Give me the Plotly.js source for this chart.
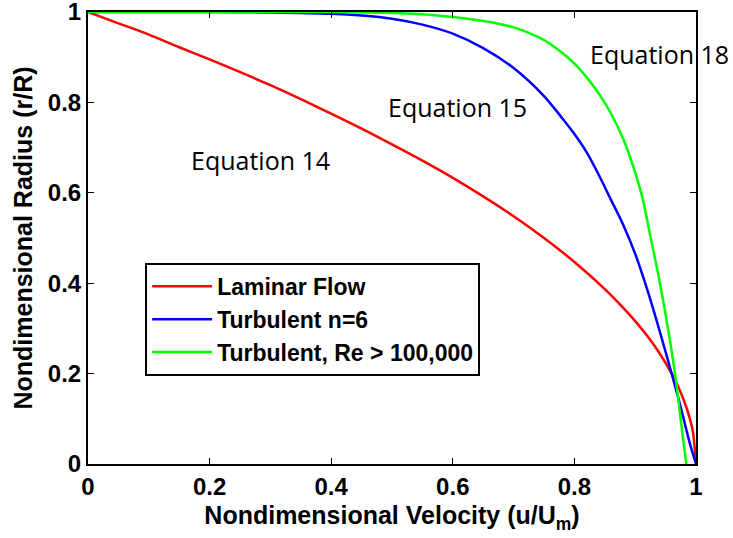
<!DOCTYPE html>
<html>
<head>
<meta charset="utf-8">
<script src="https://cdn.plot.ly/plotly-3.0.1.min.js"></script>
<style>
  html, body { margin: 0; padding: 0; background: #fff; }
  #chart { width: 733px; height: 538px; }
</style>
</head>
<body>
<div id="chart"></div>
<script>
// Velocity profiles in a pipe: nondimensional velocity u/Um vs radius r/R

// Laminar flow (Equation 14)
var velLaminar = [0, 0.05, 0.1, 0.15, 0.2, 0.22, 0.3, 0.38, 0.45, 0.5, 0.55, 0.6, 0.65, 0.7, 0.75, 0.8, 0.85, 0.88, 0.9, 0.92, 0.94, 0.96, 0.97, 0.98, 0.99, 0.995, 1.0];
var radLaminar = [1, 0.975, 0.95, 0.922, 0.895, 0.884, 0.838, 0.788, 0.742, 0.707, 0.671, 0.633, 0.592, 0.548, 0.5, 0.447, 0.387, 0.346, 0.316, 0.283, 0.245, 0.2, 0.173, 0.141, 0.1, 0.071, 0];

// Turbulent, power law n = 6 (Equation 15)
var velN6 = [0, 0.1, 0.2, 0.3, 0.4, 0.45, 0.5, 0.55, 0.6, 0.65, 0.7, 0.75, 0.78, 0.8, 0.82, 0.84, 0.86, 0.88, 0.9, 0.92, 0.94, 0.96, 0.975, 0.99, 1.0];
var radN6 = [1, 1, 1, 0.999, 0.996, 0.992, 0.985, 0.972, 0.952, 0.92, 0.876, 0.814, 0.765, 0.73, 0.69, 0.64, 0.585, 0.53, 0.465, 0.385, 0.295, 0.2, 0.125, 0.045, 0];

// Turbulent, Re > 100,000 (Equation 18)
var velRe = [0, 0.2, 0.4, 0.5, 0.55, 0.6, 0.65, 0.675, 0.7, 0.725, 0.75, 0.775, 0.8, 0.82, 0.84, 0.86, 0.88, 0.9, 0.913, 0.924, 0.94, 0.957, 0.968, 0.976, 0.984];
var radRe = [1, 1, 1, 0.998, 0.995, 0.989, 0.98, 0.974, 0.966, 0.954, 0.938, 0.915, 0.886, 0.856, 0.82, 0.776, 0.72, 0.645, 0.583, 0.51, 0.405, 0.275, 0.175, 0.085, 0];

var seriesNames = ['Laminar Flow', 'Turbulent n=6', 'Turbulent, Re > 100,000'];
var seriesColors = ['#ff0000', '#0000ff', '#00ff00'];

var tickVals = [0, 0.2, 0.4, 0.6, 0.8, 1];
var tickText = ['0', '0.2', '0.4', '0.6', '0.8', '1'];

var noteText = ['Equation 14', 'Equation 15', 'Equation 18'];
var noteX = [0.284, 0.607, 0.94];
var noteY = [0.672, 0.79, 0.907];

var boldFont = 'Liberation Sans, Arial, Helvetica, sans-serif';

var traces = [
  { x: velLaminar, y: radLaminar },
  { x: velN6, y: radN6 },
  { x: velRe, y: radRe }
].map(function (t, i) {
  return {
    type: 'scatter',
    mode: 'lines',
    x: t.x,
    y: t.y,
    name: seriesNames[i],
    line: { color: seriesColors[i], width: 2.5, shape: 'spline', smoothing: 0.8 }
  };
});

function axis(titleText, standoff) {
  return {
    range: [0, 1],
    tickmode: 'array',
    tickvals: tickVals,
    ticktext: tickText,
    ticks: 'inside',
    ticklen: 6,
    tickwidth: 1,
    tickcolor: '#000',
    showline: true,
    linecolor: '#000',
    linewidth: 2,
    mirror: 'ticks',
    showgrid: false,
    zeroline: false,
    ticklabeloverflow: 'allow',
    tickfont: { family: boldFont, size: 24, color: '#000', weight: 'bold' },
    title: {
      text: titleText,
      font: { family: boldFont, size: 25, color: '#000', weight: 'bold' },
      standoff: standoff
    },
    automargin: false
  };
}

var annotations = noteText.map(function (txt, i) {
  return {
    text: txt,
    x: noteX[i],
    y: noteY[i],
    xref: 'x',
    yref: 'y',
    showarrow: false,
    xanchor: 'center',
    yanchor: 'middle',
    font: { family: 'Open Sans, sans-serif', size: 25, color: '#000' }
  };
});

var layout = {
  width: 733,
  height: 538,
  margin: { l: 88, r: 37, t: 12, b: 74 },
  paper_bgcolor: '#fff',
  plot_bgcolor: '#fff',
  xaxis: axis('Nondimensional Velocity (u/U<sub>m</sub>)', 8),
  yaxis: axis('Nondimensional Radius (r/R)', 8),
  showlegend: true,
  legend: {
    x: 0.094,
    y: 0.445,
    xanchor: 'left',
    yanchor: 'top',
    bgcolor: '#fff',
    bordercolor: '#000',
    borderwidth: 2,
    itemwidth: 60,
    tracegroupgap: 0,
    font: { family: boldFont, size: 23, color: '#000', weight: 'bold' }
  },
  annotations: annotations
};

Plotly.newPlot('chart', traces, layout, { staticPlot: true });
</script>
</body>
</html>
